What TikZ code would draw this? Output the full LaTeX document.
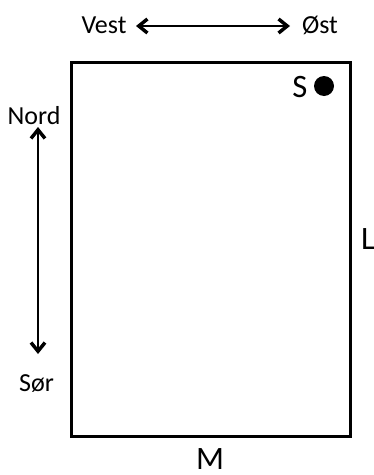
\documentclass[tikz,border=0pt]{standalone}
\usepackage{fontspec}
\setmainfont{Carlito}
\usetikzlibrary{arrows.meta}
\begin{document}
\begin{tikzpicture}[x=0.75pt,y=-0.75pt,
  lbl/.style={inner sep=0pt,font=\fontsize{19.5}{22}\selectfont,text=black},
  biglbl/.style={inner sep=0pt,font=\fontsize{24.5}{28}\selectfont,text=black},
  barbtip/.tip={Straight Barb[length=6.5pt,width=10.5pt,line width=2.6pt]},
  dir/.style={line width=2.2pt,{barbtip}-{barbtip}},
  frame/.style={draw=black,line width=2.6pt}]
  \useasboundingbox (0,0) rectangle (374,475);
  % field outline
  \draw[frame] (71.5,62.5) rectangle (350.5,436.5);
  % compass labels
  \node[lbl] (vest) at (104,25.5) {Vest};
  \node[lbl] (ost) at (320,25.5) {Øst};
  \node[lbl] (nord) at (34,115.5) {Nord};
  \node[lbl] (sor) at (36.5,384) {Sør};
  \coordinate (w) at (136,26);
  \coordinate (e) at (290,26);
  \coordinate (n) at (38,127);
  \coordinate (s) at (38,354);
  \draw[dir] (w) -- (e);
  \draw[dir] (n) -- (s);
  % markers
  \node[biglbl] (S) at (300,87) {S};
  \fill (324,86) circle (10) coordinate (dot);
  \node[biglbl] (L) at (368,239) {L};
  \node[biglbl] (M) at (210,459.5) {M};
\end{tikzpicture}
\end{document}
